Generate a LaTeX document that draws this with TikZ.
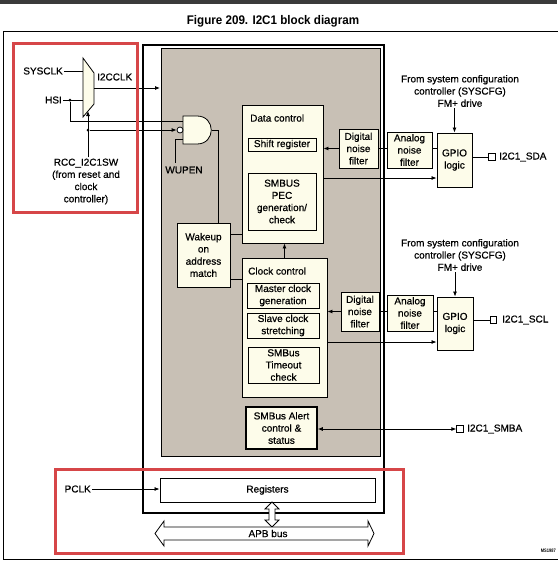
\documentclass[tikz,border=0pt]{standalone}
\usepackage{fontspec}
\setmainfont{Liberation Sans}[FakeBold=0.6]
\newfontfamily\titlefont{Liberation Sans Bold}
\usetikzlibrary{arrows.meta,calc}
\definecolor{cream}{RGB}{253,252,234}
\definecolor{grayarea}{RGB}{200,192,181}
\definecolor{redbox}{RGB}{214,70,72}
\definecolor{topbar}{RGB}{58,58,58}
\newcommand{\fsz}{\fontsize{10}{12.2}\selectfont}
\begin{document}
\begin{tikzpicture}[x=1pt,y=-1pt,
  bx/.style={draw, fill=cream, line width=0.9pt, inner sep=0pt, align=center, font=\fsz},
  lbl/.style={inner sep=1pt, align=center, font=\fsz},
  con/.style={line width=0.8pt},
  arr/.style={con, -{Latex[length=5pt,width=4pt]}},
  darr/.style={con, {Latex[length=5pt,width=4pt]}-{Latex[length=5pt,width=4pt]}},
  dotc/.style={circle, fill=black, inner sep=0pt, minimum size=3pt},
  pad/.style={draw, fill=white, line width=0.8pt, inner sep=0pt, minimum size=6.5pt},
  redframe/.style={draw=redbox, line width=3pt}
]
\useasboundingbox (0,0) rectangle (557,565);
\fill[white] (0,0) rectangle (557,565);
\fill[topbar] (0,0) rectangle (557,4);
\node[inner sep=0pt, font=\titlefont\fontsize{12.5}{14}\selectfont] (title) at (273,21) {\scalebox{0.93}[1]{Figure 209. I2C1 block diagram}};
% outer frame
\draw[line width=0.9pt] (560,31) -- (3,31) -- (3,559) -- (560,559);
% I2C block frame and gray area
\draw[line width=1.6pt] (143,45) rectangle (384,513);
\draw[fill=grayarea, line width=0.7pt] (161,48) rectangle (380,456);

% ---- clock mux ----
\draw[fill=cream, line width=0.8pt] (83,58) -- (94,73) -- (94,104) -- (83,117) -- cycle;
\coordinate (muxS) at (83,71);
\coordinate (muxH) at (83,100);
\coordinate (muxO) at (94,88);
\coordinate (muxSel) at (88,111);
\coordinate (grayIn) at (160,88);
\node[lbl, anchor=east] (sysclk) at (64,71) {SYSCLK};
\node[lbl, anchor=east] (hsi) at (63,100) {HSI};
\node[lbl, anchor=west] (i2cclk) at (96,77) {I2CCLK};
\draw[con] (sysclk.east) -- (muxS);
\draw[con] (hsi.east) -- (muxH);
\draw[arr] (muxO) -- (grayIn);
\node[dotc] (hsidot) at (70,100) {};
\node[lbl] (rcc) at (86,181.5) {RCC\_I2C1SW\\(from reset and\\clock\\controller)};
\draw[arr] (rcc.north -| muxSel) -- (muxSel);
\node[dotc] (seldot) at (88,130) {};

% ---- AND gate ----
\draw[fill=cream, line width=0.8pt] (183,116) -- (197,116) .. controls (216,116) and (216,144) .. (197,144) -- (183,144) -- cycle;
\coordinate (andA) at (183,121);
\coordinate (andW) at (183,139);
\coordinate (andO) at (212,130);
\node[circle, draw, fill=white, inner sep=0pt, minimum size=6pt, line width=0.8pt] (bub) at (180,130) {};
\draw[con] (hsidot) -- (70,121) -- (andA);
\draw[arr] (seldot) -- (bub.west);
\node[lbl] (wupen) at (184,170) {WUPEN};
\draw[con] (andW) -- (175,139) -- (175,163);

% ---- wakeup ----
\node[bx, minimum width=53pt, minimum height=64pt] (wk) at (203.5,255) {Wakeup\\on\\address\\match};
\draw[con] (andO) -- (218,130) -- (218,223);

% ---- data control ----
\node[bx, minimum width=81pt, minimum height=138pt] (dc) at (282.5,174) {};
\node[lbl, anchor=west] (dctxt) at (249,118) {Data control};
\node[bx, minimum width=68pt, minimum height=13pt] (sr) at (282,144.5) {Shift register};
\node[bx, minimum width=68pt, minimum height=57pt] (pec) at (282,201.5) {SMBUS\\PEC\\generation/\\check};
\node[bx, minimum width=39pt, minimum height=39pt] (dfa) at (358.5,148.5) {Digital\\noise\\filter};
\node[bx, minimum width=45pt, minimum height=36pt] (afa) at (409.5,150) {Analog\\noise\\filter};
\node[bx, minimum width=35pt, minimum height=54pt] (ga) at (454.5,160) {GPIO\\logic};
\node[pad] (padA) at (492,157) {};
\node[lbl, anchor=west] (sdalbl) at (498,157) {I2C1\_SDA};
\node[lbl] (cfgA) at (460,91) {From system configuration\\controller (SYSCFG)\\FM+ drive};
\draw[arr] (cfgA.south -| ga.north) -- (ga.north);
\draw[arr] (dfa.west) -- (dfa.west -| dc.east);
\draw[con] (dfa.east) -- (dfa.east -| afa.west);
\draw[con] (afa.east |- dfa.east) -- (ga.west |- dfa.east);
\draw[con] (ga.east |- padA) -- (padA.west);
\draw[arr] ($(dc.east)+(0,4)$) coordinate (pA) -- (pA -| ga.west);
\draw[con] ($(wk.east)+(0,-21)$) coordinate (wA) -- (wA -| dc.west);

% ---- clock control ----
\node[bx, minimum width=85pt, minimum height=139pt] (cc) at (284.5,327.5) {};
\node[lbl, anchor=west] (cctxt) at (247,271) {Clock control};
\node[bx, minimum width=72pt, minimum height=25pt] (mc) at (283,295.5) {Master clock\\generation};
\node[bx, minimum width=72pt, minimum height=25pt] (scs) at (283,325.5) {Slave clock\\stretching};
\node[bx, minimum width=71pt, minimum height=36pt] (sto) at (283.5,365) {SMBus\\Timeout\\check};
\node[bx, minimum width=38pt, minimum height=39pt] (dfb) at (360,311.5) {Digital\\noise\\filter};
\node[bx, minimum width=46pt, minimum height=36pt] (afb) at (410,313) {Analog\\noise\\filter};
\node[bx, minimum width=36pt, minimum height=53pt] (gb) at (455,323.5) {GPIO\\logic};
\node[pad] (padB) at (493.5,320) {};
\node[lbl, anchor=west] (scllbl) at (501,320) {I2C1\_SCL};
\node[lbl] (cfgB) at (460,255) {From system configuration\\controller (SYSCFG)\\FM+ drive};
\draw[arr] (cfgB.south -| gb.north) -- (gb.north);
\draw[arr] (cc.north) -- (cc.north |- dc.south);
\draw[arr] (dfb.west) -- (dfb.west -| cc.east);
\draw[con] (dfb.east) -- (dfb.east -| afb.west);
\draw[con] (afb.east |- dfb.east) -- (gb.west |- dfb.east);
\draw[con] (gb.east |- padB) -- (padB.west);
\draw[arr] ($(cc.east)+(0,14.5)$) coordinate (pB) -- (pB -| gb.west);
\draw[con] ($(wk.east)+(0,24)$) coordinate (wB) -- (wB -| cc.west);

% ---- SMBus alert ----
\node[bx, line width=1.5pt, minimum width=71pt, minimum height=42pt] (sa) at (281.5,428) {SMBus Alert\\control \&\\status};
\node[pad] (padC) at (460,429) {};
\node[lbl, anchor=west] (smbalbl) at (466,429) {I2C1\_SMBA};
\draw[darr] (sa.east |- padC) -- (padC.west);

% ---- registers and APB ----
\node[draw, fill=white, line width=0.9pt, minimum width=215pt, minimum height=24pt, inner sep=0pt, font=\fsz] (reg) at (267.5,490) {Registers};
\node[lbl, anchor=east] (pclk) at (92,489) {PCLK};
\draw[arr] (pclk.east) -- (pclk.east -| reg.west);
\draw[fill=white, line width=0.8pt] (272,502) -- (279,509) -- (275,509) -- (275,520) -- (279,520) -- (272,527) -- (265,520) -- (269,520) -- (269,509) -- (265,509) -- cycle;
\draw[fill=white, line width=0.8pt] (155,533.5) -- (164,521) -- (164,527) -- (368,527) -- (368,521) -- (374,533.5) -- (368,546) -- (368,540) -- (164,540) -- (164,546) -- cycle;
\node[lbl] (apb) at (268,533.5) {APB bus};
\node[inner sep=0pt, anchor=east, font=\titlefont\fontsize{5}{6}\selectfont] (ms) at (556,551) {\scalebox{0.8}[1]{MS1987}};

% red highlight frames
\draw[redframe] (13,43) rectangle (137,212);
\draw[redframe] (55,469) rectangle (403,553);
\end{tikzpicture}
\end{document}
